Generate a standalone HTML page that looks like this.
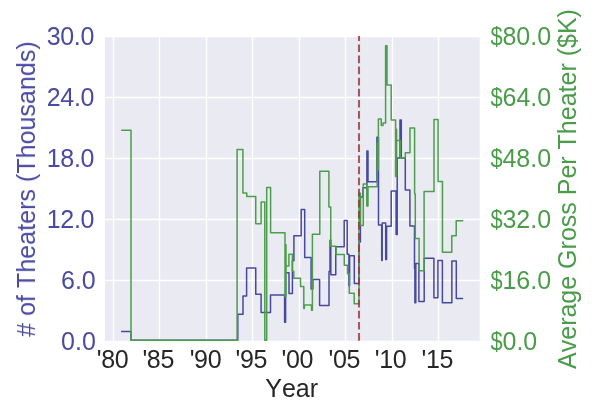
<!DOCTYPE html>
<html><head><meta charset="utf-8"><title>Theaters and Average Gross by Year</title>
<style>
html,body{margin:0;padding:0;background:#fff;}
body{width:600px;height:420px;overflow:hidden;}
svg{display:block;}
text{will-change:transform;}
text{font-family:"Liberation Sans",Arial,sans-serif;font-size:25px;font-kerning:none;}
</style></head>
<body>
<svg width="600" height="420" viewBox="0 0 600 420">
<rect width="600" height="420" fill="#fff"/>
<rect x="105.0" y="36.5" width="374.70" height="305.00" fill="#eaeaf2"/>
<path d="M105.0,341.50H479.7M105.0,280.50H479.7M105.0,219.50H479.7M105.0,158.50H479.7M105.0,97.50H479.7M105.0,36.50H479.7M113.50,36.5V341.5M159.50,36.5V341.5M206.50,36.5V341.5M252.50,36.5V341.5M299.50,36.5V341.5M345.50,36.5V341.5M392.50,36.5V341.5M438.50,36.5V341.5" stroke="#fff" stroke-width="1.39" fill="none"/>
<polyline points="121.8,331.5 131,331.5 131,340.2 237.8,340.2 237.8,314.2 243,314.2 243,296.1 246.6,296.1 246.6,268.1 255.75,268.1 255.75,294.3 261.1,294.3 261.1,312.6 270.5,312.6 270.5,295.1 284.6,295.1 284.6,322.2 285.6,322.2 285.6,272.8 289,272.8 289,293.5 292.4,293.5 292.4,260.7 293.9,260.7 293.9,235.7 301.2,235.7 301.2,209.6 304.7,209.6 304.7,257.5 311.1,257.5 311.1,289.1 312.9,289.1 312.9,279.5 319.6,279.5 319.6,305.5 329,305.5 329,271.6 330,271.6 330,240.3 330.8,240.3 330.8,274.75 335.75,274.75 335.75,246.8 344.2,246.8 344.2,220.6 347.2,220.6 347.2,254.2 348.9,254.2 348.9,285.8 349.6,285.8 349.6,255.8 354.3,255.8 354.3,283.6 359,283.6 359,242 360.4,242 360.4,196.9 362.9,196.9 362.9,187.7 366.9,187.7 366.9,150.9 368,150.9 368,181.7 376.9,181.7 376.9,137.3 378.5,137.3 378.5,225 381.7,225 381.7,260.4 382.2,260.4 382.2,222.9 385.7,222.9 385.7,259.5 386.6,259.5 386.6,226.3 391.2,226.3 391.2,190.9 396.1,190.9 396.1,234.6 397.2,234.6 397.2,157.9 400,157.9 400,120 401.3,120 401.3,158 405.3,158 405.3,190.1 409.9,190.1 409.9,225.9 414.5,225.9 414.5,268.5 414.9,268.5 414.9,302.75 415.8,302.75 415.8,263.5 418.9,263.5 418.9,301.4 424.2,301.4 424.2,258.3 433.9,258.3 433.9,297.75 437.9,297.75 437.9,260.4 442.4,260.4 442.4,302.75 451.85,302.75 451.85,260.9 456.3,260.9 456.3,298.4 462.45,298.4" fill="none" stroke="#4848a0" stroke-width="1.5" stroke-linejoin="round" stroke-linecap="square"/>
<polyline points="121.9,130.2 131,130.2 131,340.2 237.1,340.2 237.1,149.4 242.9,149.4 242.9,193.1 246.75,193.1 246.75,196.5 255.75,196.5 255.75,223.75 261.1,223.75 261.1,202.1 264.8,202.1 264.8,340.2 266.7,340.2 266.7,187.6 270.6,187.6 270.6,232.7 285,232.7 285,296.75 286,296.75 286,244.7 286,266 288.9,266 288.9,254.3 292.4,254.3 292.4,271.3 293.8,271.3 293.8,278.3 300.5,278.3 300.5,286.6 303.8,286.6 303.8,308.5 304.4,308.5 304.4,305.1 311.5,305.1 311.5,310.3 312.4,310.3 312.4,234.25 319.8,234.25 319.8,171.25 328.9,171.25 328.9,206.9 330.75,206.9 330.75,246.2 336.1,246.2 336.1,254.4 344.25,254.4 344.25,265.2 347.5,265.2 347.5,273.75 349.3,273.75 349.3,293.3 354.2,293.3 354.2,303.75 359,303.75 359,193.2 360.4,193.2 360.4,225.4 363.3,225.4 363.3,184.1 366.8,184.1 366.8,206 368,206 368,186.8 377.2,186.8 377.2,143 377.6,143 377.6,170 378.4,170 378.4,119 381.25,119 381.25,125.5 383,125.5 383,123 385.6,123 385.6,45.75 387,45.75 387,85.1 391.2,85.1 391.2,120 395.6,120 395.6,176.6 396.6,176.6 396.6,129.3 396.6,129.3 396.6,140.5 400.4,140.5 400.4,158 405.3,158 405.3,152.7 410,152.7 410,128.1 414.6,128.1 414.6,194 415.3,194 415.3,238.4 419.1,238.4 419.1,270.75 424.1,270.75 424.1,191.6 434,191.6 434,119.6 438.1,119.6 438.1,181.6 442.45,181.6 442.45,252.2 451.8,252.2 451.8,235.75 456.2,235.75 456.2,220.75 462.45,220.75" fill="none" stroke="#4c9e4c" stroke-width="1.5" stroke-linejoin="round" stroke-linecap="square"/>
<path d="M359,340.7V36" stroke="#96383a" stroke-opacity="0.82" stroke-width="2.08" stroke-dasharray="7.7 3.4" fill="none"/>
<text x="61.12" y="350.05" fill="#4a4aa3">0.0</text>
<text x="61.02" y="289.05" fill="#4a4aa3">6.0</text>
<text x="46.72" y="228.05" letter-spacing="-0.3" fill="#4a4aa3">12.0</text>
<text x="46.72" y="167.05" letter-spacing="-0.3" fill="#4a4aa3">18.0</text>
<text x="46.72" y="106.05" letter-spacing="-0.3" fill="#4a4aa3">24.0</text>
<text x="46.67" y="45.05" letter-spacing="-0.3" fill="#4a4aa3">30.0</text>
<text transform="translate(490.57,350.05) scale(0.87,1.05)" fill="#4a9c4a">$</text>
<text x="502.52" y="350.05" fill="#4a9c4a">0.0</text>
<text transform="translate(490.57,289.05) scale(0.87,1.05)" fill="#4a9c4a">$</text>
<text x="502.42" y="289.05" fill="#4a9c4a">16.0</text>
<text transform="translate(490.57,228.05) scale(0.87,1.05)" fill="#4a9c4a">$</text>
<text x="502.42" y="228.05" fill="#4a9c4a">32.0</text>
<text transform="translate(490.57,167.05) scale(0.87,1.05)" fill="#4a9c4a">$</text>
<text x="502.42" y="167.05" fill="#4a9c4a">48.0</text>
<text transform="translate(490.57,106.05) scale(0.87,1.05)" fill="#4a9c4a">$</text>
<text x="502.52" y="106.05" fill="#4a9c4a">64.0</text>
<text transform="translate(490.57,45.05) scale(0.87,1.05)" fill="#4a9c4a">$</text>
<text x="502.42" y="45.05" fill="#4a9c4a">80.0</text>
<text x="96.76" y="367.5" letter-spacing="-0.35" fill="#262626">'80</text>
<text x="142.45" y="367.5" letter-spacing="-0.35" fill="#262626">'85</text>
<text x="189.66" y="367.5" letter-spacing="-0.35" fill="#262626">'90</text>
<text x="235.50" y="367.5" letter-spacing="-0.35" fill="#262626">'95</text>
<text x="281.51" y="367.5" letter-spacing="-0.35" fill="#262626">'00</text>
<text x="328.50" y="367.5" letter-spacing="-0.35" fill="#262626">'05</text>
<text x="374.71" y="367.5" letter-spacing="-0.35" fill="#262626">'10</text>
<text x="421.60" y="367.5" letter-spacing="-0.35" fill="#262626">'15</text>
<text x="291.7" y="397.1" text-anchor="middle" fill="#262626">Year</text>
<text transform="translate(35,189.13) rotate(-90)" text-anchor="middle" textLength="295.53" lengthAdjust="spacing" fill="#4a4aa3"># of Theaters (Thousands)</text>
<text transform="translate(576,189.0) rotate(-90)" text-anchor="middle" fill="#4a9c4a">Average Gross Per Theater ($K)</text>
</svg>
</body></html>
